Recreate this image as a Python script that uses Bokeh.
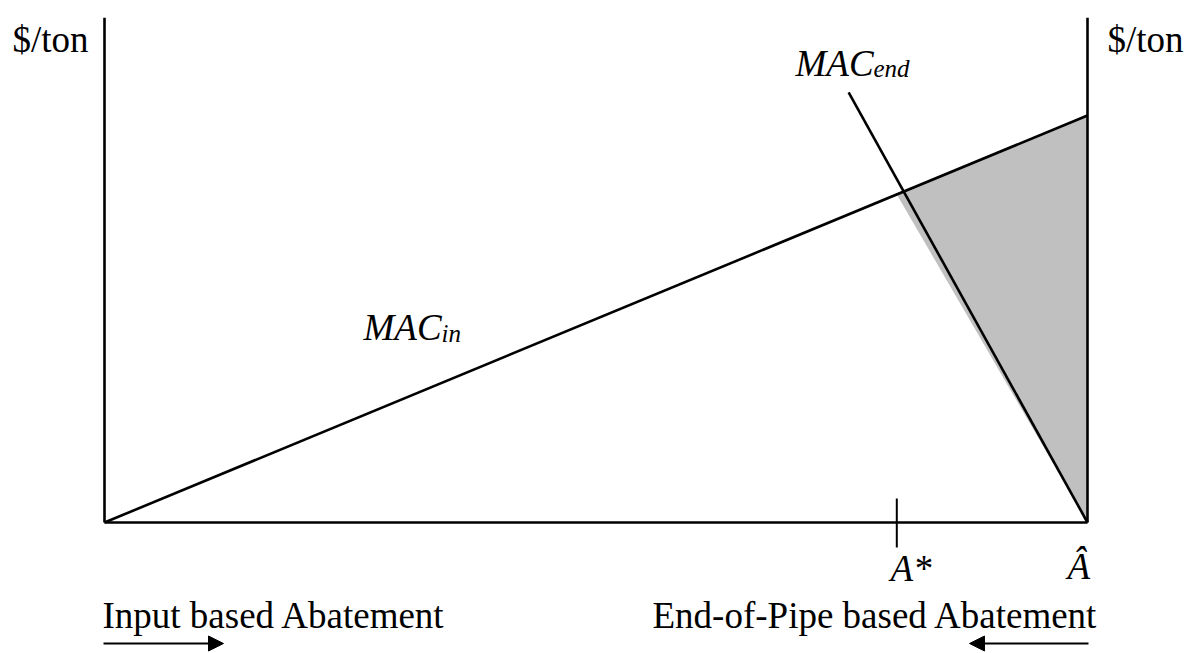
from bokeh.plotting import figure
from bokeh.models import Range1d, Arrow, NormalHead
from bokeh.core.properties import value
from bokeh.embed import file_html
from bokeh.resources import INLINE

# ---- diagram data (abatement on x: 0 .. A_hat ; cost in $/ton on y) ----
a_hat = 100.0                 # maximum abatement (Â)
a_star = 80.6                 # A*
axis_top = 124.0              # height of the two vertical $/ton axes
mac_in_x = [0.0, 100.0]       # MAC_in line
mac_in_y = [0.0, 100.0]
mac_end_x = [75.7, 100.0]     # MAC_end line
mac_end_y = [105.7, 0.0]

def mac_in(a):
    return mac_in_y[0] + (mac_in_y[1] - mac_in_y[0]) * (a - mac_in_x[0]) / (mac_in_x[1] - mac_in_x[0])

shade_x = [a_star, a_hat, a_hat]
shade_y = [mac_in(a_star), mac_in(a_hat), 0.0]

# ---- pixel helpers for label placement (image px -> data) ----
X0, XS = 104.0, 9.83
Y0, YS = 522.0, 4.07
def X(px):
    return (px - X0) / XS
def Y(py):
    return (Y0 - py) / YS

W, H = 1192, 653
p = figure(width=W, height=H, output_backend="svg", toolbar_location=None,
           x_range=Range1d(X(0), X(W)), y_range=Range1d(Y(H), Y(0)),
           x_axis_location=None, y_axis_location=None,
           min_border=0, min_border_left=0, min_border_right=0,
           min_border_top=0, min_border_bottom=0,
           outline_line_color=None, background_fill_color="white",
           border_fill_color="white")
p.grid.visible = False

# shaded area
p.patch(shade_x, shade_y, fill_color="#c0c0c0", line_color=None)

# axes
LW = 2.6
p.line([0, 0], [0, axis_top], line_color="black", line_width=LW)
p.line([a_hat, a_hat], [0, axis_top], line_color="black", line_width=LW)
p.line([0, a_hat], [0, 0], line_color="black", line_width=LW)

# MAC curves
p.line(mac_in_x, mac_in_y, line_color="black", line_width=LW)
p.line(mac_end_x, mac_end_y, line_color="black", line_width=LW)

# A* tick
p.line([a_star, a_star], [Y(498), Y(547)], line_color="black", line_width=2)

FONT = value("Liberation Serif")
FS = "37px"
SUB = "25px"

def txt(x, y, s, size=FS, style="normal", align="left"):
    p.text(x=[x], y=[y], text=[s], text_font=FONT, text_font_size=size,
           text_font_style=style, text_color="black",
           text_baseline="alphabetic", text_align=align)

txt(X(12), Y(39), "$/ton")
txt(X(1107), Y(39), "$/ton")

txt(X(795), Y(63), "MAC", style="italic")
txt(X(873), Y(68), "end", size=SUB, style="italic")

txt(X(363), Y(327), "MAC", style="italic")
txt(X(441), Y(333), "in", size=SUB, style="italic")

txt(X(890), Y(568), "A*", style="italic")
txt(X(1067), Y(566), "Â", style="italic")

txt(X(102), Y(615), "Input based Abatement")
txt(X(652), Y(615), "End-of-Pipe based Abatement")

# direction arrows
p.add_layout(Arrow(end=NormalHead(size=15, fill_color="black", line_color="black"),
                   x_start=X(103), y_start=Y(643), x_end=X(223), y_end=Y(643),
                   line_color="black", line_width=2))
p.add_layout(Arrow(end=NormalHead(size=15, fill_color="black", line_color="black"),
                   x_start=X(1088), y_start=Y(643), x_end=X(969), y_end=Y(643),
                   line_color="black", line_width=2))

open("out.html", "w").write(file_html(p, INLINE))
